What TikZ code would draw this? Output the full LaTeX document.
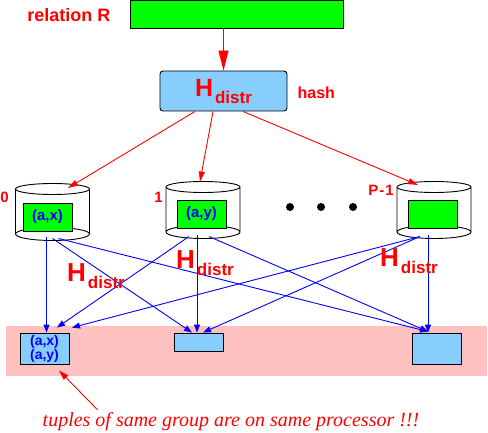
\documentclass[tikz,border=0pt]{standalone}
\usepackage{fontspec}
\setmainfont{Liberation Sans}
\newfontfamily\notefont{Liberation Serif}
\usetikzlibrary{arrows.meta,positioning}
\definecolor{pgreen}{RGB}{0,255,0}
\definecolor{pblue}{RGB}{135,206,255}
\definecolor{ppink}{RGB}{255,192,192}
\newcommand{\hdistr}[2]{\fontsize{#1}{#1}\selectfont H\kern2pt\raisebox{-7pt}{\fontsize{#2}{#2}\selectfont distr}}

\tikzset{
 box/.style={draw,fill=pblue,line width=0.9pt,inner sep=0pt,minimum width=49pt},
 tuple/.style={draw,fill=pgreen,line width=0.9pt,minimum width=49pt,minimum height=28pt,inner sep=0pt,text=blue,font=\bfseries\fontsize{15}{15}\selectfont},
 lbl/.style={text=red,font=\bfseries\fontsize{15}{15}\selectfont,inner sep=0pt},
 hlbl/.style={text=red,font=\bfseries,inner sep=0pt,anchor=base west},
 hasharrow/.style={red,line width=0.9pt,-{Triangle[length=10pt,width=6pt]}},
 distarrow/.style={blue,line width=0.9pt,-{Triangle[length=8pt,width=6pt]}},
 disk/.pic={
  \draw[line width=0.9pt] (-37,-22.5) -- (-37,22.5) (37,-22.5) -- (37,22.5)
    (0,-22.5) ellipse [x radius=37pt,y radius=5.5pt]
    (0,22.5) ellipse [x radius=37pt,y radius=6.5pt];
  \coordinate (-top) at (0,-22.5);
  \coordinate (-sl) at (-14,27);
  \coordinate (-sv) at (-6,26);
  \coordinate (-sr) at (0,27);
  \coordinate (-srr) at (6,27);
 }
}

\begin{document}
\begin{tikzpicture}[x=1pt,y=-1pt]
\useasboundingbox (0,0) rectangle (488,433);
% processors after redistribution
\node[fill=ppink,minimum width=481pt,minimum height=50pt,inner sep=0pt] (band) at (246.5,351) {};
\node[box,minimum height=31pt,text=blue,font=\bfseries\fontsize{14}{13}\selectfont,align=center] (b0) at (44.5,348.5) {(a,x)\\(a,y)};
\node[box,minimum height=18pt] (b1) at (198.5,342) {};
\node[box,minimum height=31pt] (b2) at (436.5,348.5) {};

% relation and hash function
\node[draw,fill=pgreen,line width=0.9pt,minimum width=213pt,minimum height=28pt,inner sep=0pt] (rel) at (236.5,14) {};
\node[lbl,font=\bfseries\fontsize{18}{18}\selectfont,left=19pt of rel,yshift=-1pt] (relname) {relation R};
\node[box,rounded corners=3pt,minimum width=127pt,minimum height=40pt,text=red,font=\bfseries] (hash) at (223.5,91) {\hdistr{25}{17}};
\node[lbl,font=\bfseries\fontsize{16}{16}\selectfont,right=10pt of hash,yshift=-2pt] (hashname) {hash};

% disks
\pic (d0) at (52.5,211.5) {disk};
\pic (d1) at (203,209.5) {disk};
\pic (d2) at (434,209.5) {disk};
\node[tuple] (t0) at (47.5,217) {(a,x)};
\node[tuple] (t1) at (201.5,214) {(a,y)};
\node[tuple] (t2) at (433,214) {};
\node[lbl,anchor=base east] (n0) at (9,203) {0};
\node[lbl,anchor=base east] (n1) at (163,203) {1};
\node[lbl,anchor=base east] (n2) at (394,196) {P\kern1pt-\kern1pt1};
\foreach \x [count=\i] in {290,321,353}
  \node[circle,fill=black,inner sep=0pt,minimum size=8pt] (dot\i) at (\x,207) {};

\draw[hasharrow,-{Triangle[length=20pt,width=10pt]}] (hash.north |- rel.south) -- (hash.north);
\path[hasharrow]
 ([xshift=-28.5pt]hash.south) edge ([shift={(15.5,-1)}]d0-top)
 ([xshift=-10.5pt]hash.south) edge ([shift={(-3,-5.5)}]d1-top)
 ([xshift=19.5pt]hash.south) edge ([shift={(-16,-2)}]d2-top);

\path[distarrow]
 (d0-sv) edge (d0-sv |- b0.north)
 (d0-sr) edge ([shift={(-6.5,0)}]b1.north)
 (d0-srr) edge ([shift={(-8.5,-1)}]b2.north)
 (d1-sl) edge ([shift={(12.5,-5)}]b0.north)
 (d1-sv) edge (d1-sv |- b1.north)
 (d1-srr) edge ([shift={(-8.5,-1)}]b2.north)
 (d2-sl) edge ([shift={(27.5,-5)}]b0.north)
 (d2-sl) edge ([shift={(4.5,0)}]b1.north)
 (d2-sv) edge (d2-sv |- b2.north);

\node[hlbl] (h0) at (67,282) {\hdistr{26}{17}};
\node[hlbl] (h1) at (176,269) {\hdistr{26}{17}};
\node[hlbl] (h2) at (380,267) {\hdistr{26}{17}};

\node[text=red,inner sep=0pt,anchor=base,font=\notefont\itshape\fontsize{20}{20}\selectfont] (note) at (231,426) {tuples of same group are on same processor !!!};
\draw[hasharrow] ([shift={(55,-2)}]note.north west) -- ([shift={(14.5,6)}]b0.south);
\end{tikzpicture}
\end{document}
